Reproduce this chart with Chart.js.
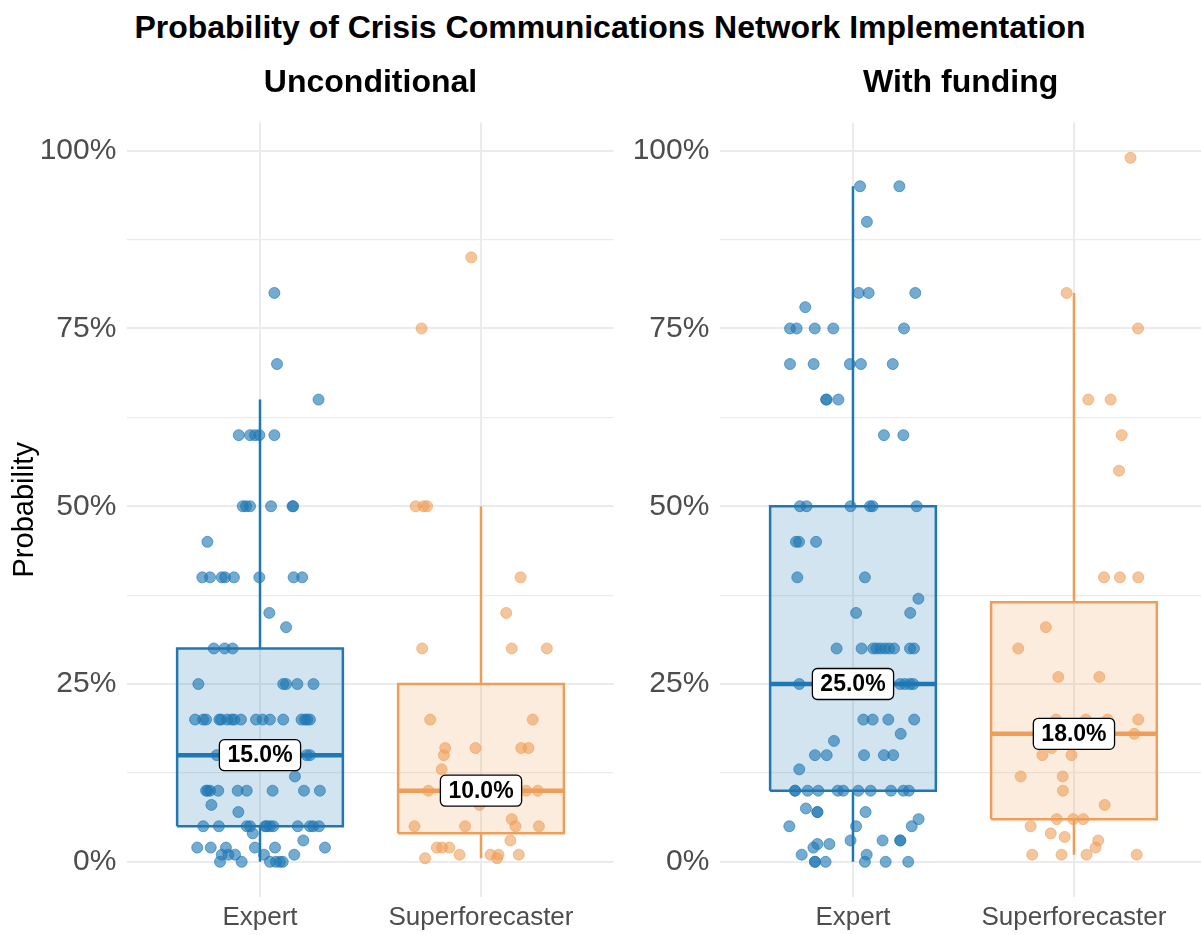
<!DOCTYPE html>
<html>
<head>
<meta charset="utf-8">
<script src="https://cdn.jsdelivr.net/npm/chart.js@4.4.1/dist/chart.umd.min.js"></script>
<style>
  html, body { margin: 0; padding: 0; background: #fff; }
  body { width: 1201px; height: 935px; position: relative; overflow: hidden; font-family: "Liberation Sans", Arial, sans-serif; }
  #title { position: absolute; left: 0; top: 8px; width: 1220px; text-align: center; font-weight: bold; font-size: 32px; line-height: 38px; color: #000; }
  .panel { position: absolute; top: 50px; height: 885px; }
</style>
</head>
<body>
<div id="title">Probability of Crisis Communications Network Implementation</div>
<div class="panel" style="left:0;width:620px"><canvas id="c1"></canvas></div>
<div class="panel" style="left:620px;width:581px"><canvas id="c2"></canvas></div>
<script>
const categories = ['Expert', 'Superforecaster'];
const panelTitles = ['Unconditional', 'With funding'];
const yTicks = [0, 12.5, 25, 37.5, 50, 62.5, 75, 87.5, 100];

// box stats: [lower whisker, q1, median, q3, upper whisker]
const uncondExpertBox = [0, 5, 15, 30, 65];
const uncondSuperBox = [0.5, 4, 10, 25, 50];
const fundingExpertBox = [0, 10, 25, 50, 95];
const fundingSuperBox = [1, 6, 18, 36.5, 80];

// individual answers (%) and their horizontal jitter (category units)
const uncondExpert = [80, 70, 65, 60, 60, 60, 60, 60, 50, 50, 50, 50, 50, 50, 45,
  40, 40, 40, 40, 40, 40, 40, 40, 35, 33, 30, 30, 30, 25, 25, 25, 25, 25,
  20, 20, 20, 20, 20, 20, 20, 20, 20, 20, 20, 20, 20, 20, 20, 20, 20,
  15, 15, 15, 12, 10, 10, 10, 10, 10, 10, 10, 10, 10, 8, 7,
  5, 5, 5, 5, 5, 5, 5, 5, 5, 5, 5, 5, 4, 3, 2, 2, 2, 2, 2, 2,
  1, 1, 1, 1, 1, 0, 0, 0, 0, 0, 0];
const uncondExpertJitter = [0.065, 0.077, 0.265, -0.096, -0.045, -0.023, -0.003, 0.065,
  -0.078, -0.063, -0.045, 0.05, 0.147, 0.15, -0.238,
  -0.261, -0.226, -0.173, -0.158, -0.118, -0.003, 0.152, 0.191, 0.042, 0.118,
  -0.209, -0.16, -0.124, -0.279, 0.105, 0.118, 0.169, 0.242,
  -0.294, -0.257, -0.244, -0.184, -0.176, -0.148, -0.128, -0.116, -0.086, -0.018, 0.012, 0.045, 0.105, 0.188, 0.204, 0.214, 0.226,
  -0.196, 0.211, 0.226, 0.158, -0.244, -0.237, -0.226, -0.189, -0.101, -0.06, 0.057, 0.199, 0.271, -0.22, -0.098,
  -0.257, -0.186, -0.06, -0.045, 0.023, 0.03, 0.045, 0.06, 0.171, 0.226, 0.241, 0.267, -0.033, 0.196,
  -0.284, -0.223, -0.154, -0.023, 0.068, 0.294,
  -0.173, -0.143, -0.113, 0.018, 0.155, -0.181, -0.083, 0.045, 0.072, 0.09, 0.103];

const uncondSuper = [85, 75, 50, 50, 50, 40, 35, 30, 30, 30, 20, 20, 16, 16, 16, 16, 15, 13,
  10, 10, 10, 8, 6, 5, 5, 5, 5, 3, 2, 2, 2, 1, 1, 1, 1, 0.5, 0.5];
const uncondSuperJitter = [-0.044, -0.269, -0.296, -0.26, -0.244, 0.179, 0.114, -0.266, 0.139, 0.298,
  -0.23, 0.234, -0.162, -0.025, 0.182, 0.215, -0.168, -0.178, -0.238, 0.204, 0.257, -0.007, 0.139,
  -0.301, -0.072, 0.156, 0.262, 0.133, -0.2, -0.176, -0.143, -0.097, 0.043, 0.079, 0.171, -0.253, 0.073];

const fundingExpert = [95, 95, 90, 80, 80, 80, 78, 75, 75, 75, 75, 75, 70, 70, 70, 70, 70, 65, 65, 65,
  60, 60, 50, 50, 50, 50, 50, 50, 45, 45, 45, 40, 40, 37, 35, 35,
  30, 30, 30, 30, 30, 30, 30, 30, 30, 30, 25, 25, 25, 25, 25, 20, 20, 20, 20, 18, 17,
  15, 15, 15, 15, 15, 13, 10, 10, 10, 10, 10, 10, 10, 10, 10, 10, 10,
  7.5, 7, 7, 7, 6, 5, 5, 5, 3, 3, 3, 3, 2.5, 2.5, 2, 1, 1, 0, 0, 0, 0, 0, 0];
const fundingExpertJitter = [0.032, 0.21, 0.063, 0.026, 0.071, 0.282, -0.216, -0.285, -0.255, -0.173, -0.089, 0.231,
  -0.285, -0.178, -0.014, 0.036, 0.18, -0.122, -0.119, -0.066, 0.14, 0.228,
  -0.24, -0.21, -0.011, 0.077, 0.089, 0.288, -0.258, -0.244, -0.167, -0.252, 0.054, 0.296, 0.014, 0.259,
  -0.074, 0.039, 0.092, 0.107, 0.125, 0.145, 0.164, 0.186, 0.258, 0.276, -0.243, 0.213, 0.235, 0.258, 0.273,
  0.047, 0.089, 0.16, 0.277, 0.216, -0.086, -0.172, -0.119, 0.05, 0.14, 0.182, -0.243,
  -0.262, -0.262, -0.205, -0.157, -0.069, -0.044, 0.024, 0.08, 0.172, 0.228, 0.253,
  -0.213, -0.161, -0.161, 0.057, 0.297, -0.288, 0.014, 0.266, -0.011, 0.134, 0.214, 0.214,
  -0.161, -0.107, -0.179, -0.232, 0.062, -0.172, -0.172, -0.124, 0.054, 0.148, 0.25];

const fundingSuper = [99, 80, 75, 65, 65, 60, 55, 40, 40, 40, 33, 30, 26, 26, 20, 20, 20, 20, 18,
  16, 15, 15, 12, 12, 10, 8, 6, 6, 6, 5, 4, 3.5, 3, 2, 1, 1, 1, 1];
const fundingSuperJitter = [0.256, -0.033, 0.29, 0.065, 0.166, 0.216, 0.204, 0.136, 0.208, 0.291,
  -0.127, -0.252, -0.071, 0.115, -0.081, 0.054, 0.152, 0.291, 0.273, -0.101, -0.143, -0.011,
  -0.241, -0.051, -0.05, 0.139, -0.078, -0.003, 0.042, -0.196, -0.105, -0.042, 0.11, 0.098,
  -0.189, -0.056, 0.057, 0.284];

const blue = 'rgb(31,120,180)';
const orange = 'rgb(238,158,88)';
const colors = [
  { line: blue, fill: 'rgba(31,120,180,0.2)', point: 'rgba(31,120,180,0.62)' },
  { line: orange, fill: 'rgba(238,158,88,0.2)', point: 'rgba(238,158,88,0.6)' }
];

Chart.defaults.font.family = '"Liberation Sans", Arial, sans-serif';

function boxSets(pos, s, c) {
  const w = 0.375;
  const common = { showLine: true, pointRadius: 0, tension: 0, borderColor: c.line, order: 2 };
  return [
    Object.assign({}, common, {
      data: [{x: pos - w, y: s[1]}, {x: pos + w, y: s[1]}, {x: pos + w, y: s[3]}, {x: pos - w, y: s[3]}, {x: pos - w, y: s[1]}],
      fill: 'shape', backgroundColor: c.fill, borderWidth: 2.5
    }),
    Object.assign({}, common, { data: [{x: pos, y: s[0]}, {x: pos, y: s[1]}], borderWidth: 2.5 }),
    Object.assign({}, common, { data: [{x: pos, y: s[3]}, {x: pos, y: s[4]}], borderWidth: 2.5 }),
    Object.assign({}, common, { data: [{x: pos - w, y: s[2]}, {x: pos + w, y: s[2]}], borderWidth: 4.5 })
  ];
}

function pointSet(pos, values, jitter, c) {
  return {
    data: values.map((v, i) => ({x: pos + jitter[i], y: v})),
    showLine: false, pointRadius: 5.5, pointBorderWidth: 1,
    backgroundColor: c.point, borderColor: c.point, order: 1
  };
}

const medianLabels = {
  id: 'medianLabels',
  afterDatasetsDraw(chart, args, opts) {
    const ctx = chart.ctx, x = chart.scales.x, y = chart.scales.y;
    opts.boxes.forEach((s, i) => {
      const px = x.getPixelForValue(i + 1), py = y.getPixelForValue(s[2]);
      const text = s[2].toFixed(1) + '%';
      ctx.save();
      ctx.font = 'bold 23px "Liberation Sans", Arial, sans-serif';
      const w = ctx.measureText(text).width + 16, h = 31;
      ctx.beginPath();
      ctx.roundRect(px - w / 2, py - h / 2, w, h, 5);
      ctx.fillStyle = '#fff';
      ctx.fill();
      ctx.lineWidth = 1.3;
      ctx.strokeStyle = '#000';
      ctx.stroke();
      ctx.fillStyle = '#000';
      ctx.textAlign = 'center';
      ctx.textBaseline = 'middle';
      ctx.fillText(text, px, py + 1);
      ctx.restore();
    });
  }
};

function makeChart(id, title, boxes, points, yTitle, yWidth, xMax, padRight) {
  const datasets = [];
  points.forEach((p, i) => datasets.push(pointSet(i + 1, p[0], p[1], colors[i])));
  boxes.forEach((b, i) => boxSets(i + 1, b, colors[i]).forEach(d => datasets.push(d)));
  return new Chart(document.getElementById(id), {
    type: 'scatter',
    data: { datasets: datasets },
    options: {
      responsive: true,
      maintainAspectRatio: false,
      animation: false,
      layout: { autoPadding: false, padding: { left: 0, right: padRight, top: 0, bottom: 0 } },
      plugins: {
        legend: { display: false },
        tooltip: { enabled: false },
        title: {
          display: true, text: title, fullSize: false, color: '#000',
          font: { size: 32, weight: 'bold' }, padding: { top: 14, bottom: 20.2 }
        },
        medianLabels: { boxes: boxes }
      },
      scales: {
        x: {
          type: 'linear', min: 0.4, max: xMax,
          afterBuildTicks: s => { s.ticks = [{value: 1}, {value: 2}]; },
          afterFit: s => { s.height = 38; s.paddingLeft = 0; s.paddingRight = 0; },
          ticks: { callback: v => categories[Math.round(v) - 1], color: '#4d4d4d', font: { size: 26 }, padding: 5, autoSkip: false, maxRotation: 0 },
          grid: { color: '#ebebeb', lineWidth: 2, drawTicks: false },
          border: { display: false }
        },
        y: {
          type: 'linear', min: -4.95, max: 103.95,
          afterBuildTicks: s => { s.ticks = yTicks.map(v => ({value: v})); },
          afterFit: s => { s.width = yWidth; s.paddingTop = 0; s.paddingBottom = 0; },
          ticks: { callback: v => (v % 25 === 0 ? v + '%' : ''), color: '#4d4d4d', font: { size: 30 }, padding: 11, autoSkip: false },
          grid: { color: '#ebebeb', lineWidth: c => (c.tick && c.tick.value % 25 === 0 ? 2 : 1.2), drawTicks: false },
          border: { display: false },
          title: { display: yTitle, text: 'Probability', color: '#000', font: { size: 29 }, padding: { top: 8, bottom: 0 } }
        }
      }
    },
    plugins: [medianLabels]
  });
}

makeChart('c1', panelTitles[0], [uncondExpertBox, uncondSuperBox],
  [[uncondExpert, uncondExpertJitter], [uncondSuper, uncondSuperJitter]], true, 127.4, 2.6, 6.4);
makeChart('c2', panelTitles[1], [fundingExpertBox, fundingSuperBox],
  [[fundingExpert, fundingExpertJitter], [fundingSuper, fundingSuperJitter]], false, 100.4, 2.575, 0);
</script>
</body>
</html>
